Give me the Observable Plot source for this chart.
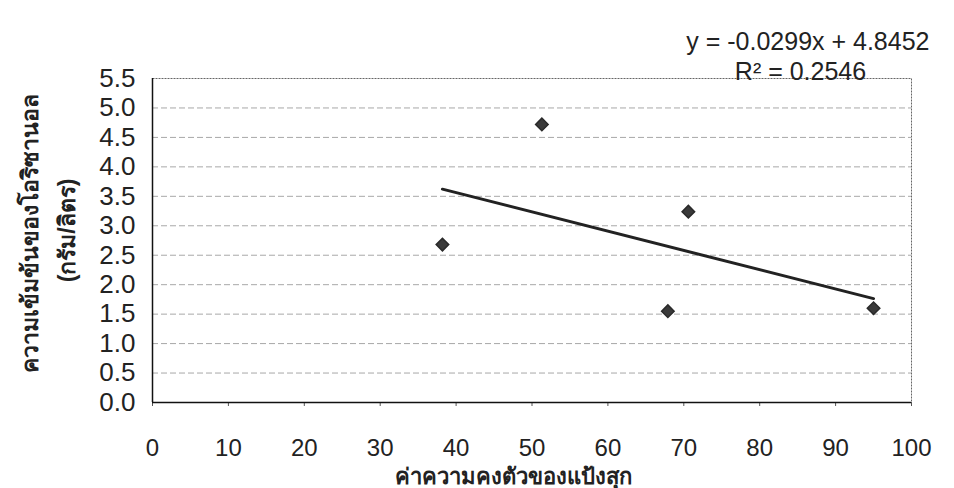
<!DOCTYPE html>
<html>
<head>
<meta charset="utf-8">
<script src="https://cdn.jsdelivr.net/npm/d3@7"></script>
<script src="https://cdn.jsdelivr.net/npm/@observablehq/plot@0.6"></script>
<style>
  html, body { margin: 0; padding: 0; background: #fff; }
</style>
</head>
<body>
<div id="chart"></div>
<script>
const xValues = [38.2, 51.3, 67.9, 70.6, 95.0];
const yValues = [2.68, 4.72, 1.55, 3.24, 1.60];
const xTicks = [0, 10, 20, 30, 40, 50, 60, 70, 80, 90, 100];
const yTicks = [0, 0.5, 1.0, 1.5, 2.0, 2.5, 3.0, 3.5, 4.0, 4.5, 5.0, 5.5];
const equationText = "y = -0.0299x + 4.8452";
const r2Text = "R² = 0.2546";
const xLabel = "ค่าความคงตัวของแป้งสุก";
const yLabel1 = "ความเข้มข้นของโอริซานอล";
const yLabel2 = "(กรัม/ลิตร)";

const data = xValues.map((x, i) => ({x, y: yValues[i]}));
const font = "'Liberation Sans', Arial, 'Noto Sans', sans-serif";

const chart = Plot.plot({
  width: 954,
  height: 488,
  marginLeft: 152,
  marginRight: 43,
  marginTop: 78,
  marginBottom: 86,
  style: {fontFamily: font, fontSize: "23px", color: "#222", background: "#fff", overflow: "visible"},
  x: {domain: [0, 100]},
  y: {domain: [0, 5.5]},
  marks: [
    Plot.ruleY(yTicks.filter(d => d > 0 && d < 5.5), {stroke: "#a8a8a8", strokeWidth: 1, strokeDasharray: "6,3"}),
    Plot.frame({stroke: "#666", strokeWidth: 1, strokeDasharray: "2,1"}),
    Plot.axisX({ticks: xTicks, tickSize: 4, tickPadding: 32, label: null, fontSize: 24, stroke: "#555"}),
    Plot.axisY({ticks: yTicks, tickFormat: d3.format(".1f"), tickSize: 0, tickPadding: 17, label: null, fontSize: 26}),
    Plot.ruleX([0], {stroke: "#111", strokeWidth: 1.5}),
    Plot.ruleY([0], {stroke: "#111", strokeWidth: 1.5}),
    Plot.linearRegressionY(data, {x: "x", y: "y", ci: 0, stroke: "#222", strokeWidth: 3}),
    Plot.dot(data, {x: "x", y: "y", symbol: "square", rotate: 45, fill: "#3a3a3a", stroke: "#2a2a2a", r: 5}),
    Plot.text([equationText], {text: d => d, frameAnchor: "top-right", textAnchor: "end", lineAnchor: "middle", dx: 18, dy: -37, fontSize: 25, fill: "#222"}),
    Plot.text([r2Text], {text: d => d, frameAnchor: "top-right", textAnchor: "middle", lineAnchor: "middle", dx: -111, dy: -7, fontSize: 25, fill: "#222"}),
    Plot.text([xLabel], {text: d => d, frameAnchor: "bottom", textAnchor: "middle", lineAnchor: "middle", dx: -19, dy: 74, fontSize: 22, fontWeight: "bold", fill: "#222"}),
    Plot.text([yLabel1], {text: d => d, frameAnchor: "left", rotate: -90, textAnchor: "middle", lineAnchor: "middle", dx: -122, dy: -7, fontSize: 23, fontWeight: "bold", fill: "#222"}),
    Plot.text([yLabel2], {text: d => d, frameAnchor: "left", rotate: -90, textAnchor: "middle", lineAnchor: "middle", dx: -85, dy: -10, fontSize: 23, fontWeight: "bold", fill: "#222"})
  ]
});
document.getElementById("chart").appendChild(chart);
</script>
</body>
</html>
